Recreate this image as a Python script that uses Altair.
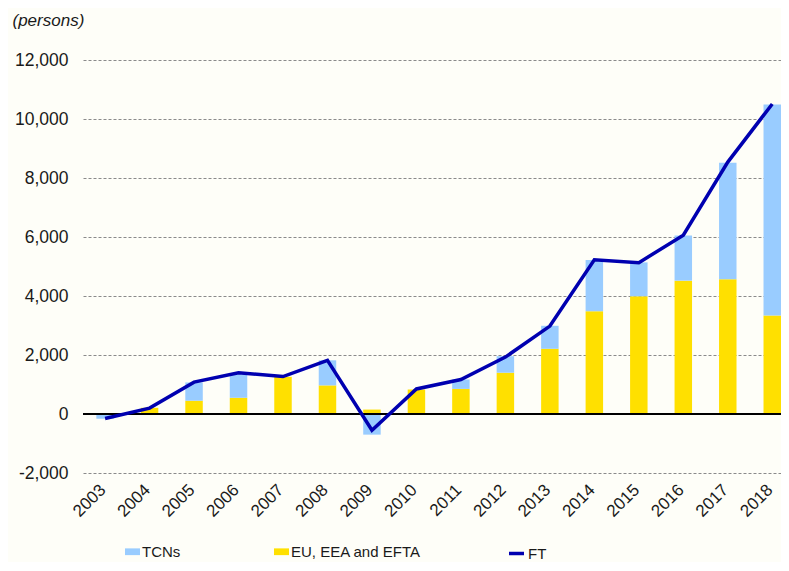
import altair as alt
import pandas as pd

years = [str(y) for y in range(2003, 2019)]
series_names = ["TCNs", "EU, EEA and EFTA", "FT"]
tcns = [-160, 0, 620, 800, 0, 850, -700, 0, 320, 560, 780, 1740, 1150, 1530, 3950, 7150]
eu = [0, 210, 450, 550, 1260, 970, 150, 830, 850, 1400, 2210, 3480, 3990, 4520, 4570, 3340]
ft = [-150, 200, 1080, 1400, 1270, 1820, -550, 850, 1170, 1930, 2980, 5230, 5130, 6060, 8540, 10510]
y_ticks = [-2000, 0, 2000, 4000, 6000, 8000, 10000, 12000]

rows = []
for i, yr in enumerate(years):
    rows.append({"year": yr, "series": series_names[1], "value": eu[i], "ord": 0})
    rows.append({"year": yr, "series": series_names[0], "value": tcns[i], "ord": 1})
bar_df = pd.DataFrame(rows)
line_df = pd.DataFrame({"year": years, "series": series_names[2], "value": ft})
zero_df = pd.DataFrame({"value": [0]})

FONT = "Liberation Sans"
TXT = "#1a1a1a"

x_scale = alt.Scale(paddingInner=0.607, paddingOuter=0.15, align=1)
x_axis = alt.Axis(title=None, labelAngle=-45, labelAlign="right", labelBaseline="middle",
                  labelFontSize=17, labelPadding=14, labelOffset=-2, ticks=False, domain=False,
                  grid=False, labelColor=TXT, labelFont=FONT)
y_scale = alt.Scale(domain=[-2000, 12000], nice=False, zero=False)
y_axis = alt.Axis(values=y_ticks,
                  labelExpr="datum.value < 0 ? '-' + format(-datum.value, ',') : format(datum.value, ',')",
                  title="(persons)", titleAngle=0, titleX=-71, titleY=-40,
                  titleAlign="left", titleBaseline="middle", titleFontStyle="italic",
                  titleFontWeight="normal", titleFontSize=17, titleColor=TXT, titleFont=FONT,
                  labelFontSize=17.5, labelPadding=15, labelColor=TXT, labelFont=FONT,
                  ticks=False, domain=False, gridDash=[3, 2], gridColor="#8a8a8a", gridWidth=1)


def xe():
    return alt.X("year:N", sort=years, scale=x_scale, axis=x_axis)


def ye(stack=None):
    if stack:
        return alt.Y("value:Q", stack=stack, scale=y_scale, axis=y_axis)
    return alt.Y("value:Q", scale=y_scale, axis=y_axis)


bars = alt.Chart(bar_df).mark_bar().encode(
    x=xe(),
    y=ye("zero"),
    color=alt.Color("series:N",
                    scale=alt.Scale(domain=series_names[:2], range=["#99CCFF", "#FFE000"]),
                    legend=alt.Legend(title=None, orient="none", legendX=42, legendY=484,
                                      direction="horizontal", symbolType="M-1,-0.45H1V0.45H-1Z",
                                      symbolSize=225, symbolStrokeWidth=0, labelFontSize=15,
                                      labelOffset=2, columnPadding=93, labelColor=TXT, labelFont=FONT)),
    order=alt.Order("ord:Q"),
)

zero_rule = alt.Chart(zero_df).mark_rule(color="black", strokeWidth=2).encode(y=ye())

line = alt.Chart(line_df).mark_line(strokeWidth=3.5).encode(
    x=xe(),
    y=ye(),
    stroke=alt.Stroke("series:N",
                      scale=alt.Scale(domain=[series_names[2]], range=["#0000B0"]),
                      legend=alt.Legend(title=None, orient="none", legendX=424, legendY=484,
                                        symbolType="stroke", symbolSize=225, symbolStrokeWidth=3.5,
                                        labelFontSize=15, labelOffset=2, labelColor=TXT, labelFont=FONT)),
)

chart = alt.layer(bars, zero_rule, line).properties(
    width=698, height=413,
    autosize=alt.AutoSizeParams(type="none"),
    padding={"left": 75, "top": 52, "right": 0, "bottom": 89},
).configure(background="#FEFEF8").configure_view(stroke=None)

chart.save("out.html", embed_options={"renderer": "svg", "actions": False})
